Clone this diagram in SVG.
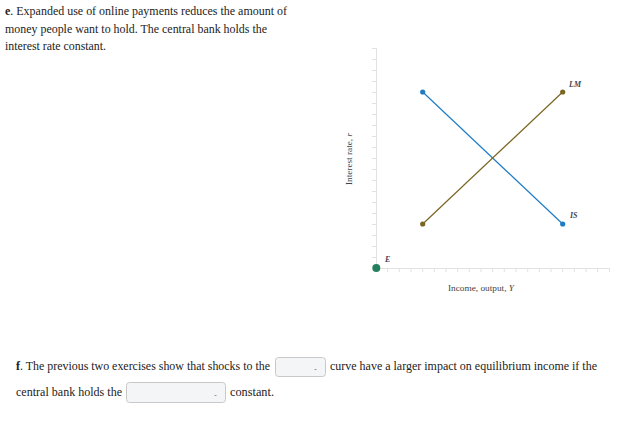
<svg xmlns="http://www.w3.org/2000/svg" width="629" height="435" viewBox="0 0 629 435">
<style>
text{font-family:'Liberation Serif','Times New Roman',Times,serif}
.t{font-size:11.5px;fill:#222}
.ax{font-size:8.5px;fill:#444}
.lb{font-size:8px;font-style:italic;font-weight:bold;fill:#445}
.grid{stroke:#e2e2e2;stroke-width:1;fill:none}
.sel{fill:#f4f5f7;stroke:#c8c8c8;stroke-width:1}
</style>
<rect width="629" height="435" fill="#fff"/>
<g id="question-e">
<text class="t" x="5" y="15" textLength="282" lengthAdjust="spacingAndGlyphs"><tspan font-weight="bold">e</tspan>. Expanded use of online payments reduces the amount of</text>
<text class="t" x="5" y="33" textLength="262" lengthAdjust="spacingAndGlyphs">money people want to hold. The central bank holds the</text>
<text class="t" x="5" y="50" textLength="101" lengthAdjust="spacingAndGlyphs">interest rate constant.</text>
</g>
<g id="axes">
<path class="grid" d="M376.5 48V268M376 268.5H610"/>
<path class="grid" d="M372 48.5h4M372 59.5h4M372 70.5h4M372 81.5h4M372 92.5h4M372 103.5h4M372 114.5h4M372 125.5h4M372 136.5h4M372 147.5h4M372 158.5h4M372 169.5h4M372 180.5h4M372 191.5h4M372 202.5h4M372 213.5h4M372 224.5h4M372 235.5h4M372 246.5h4M372 257.5h4"/>
<path class="grid" d="M387.7 268v4M399.3 268v4M411 268v4M422.7 268v4M434.3 268v4M446 268v4M457.7 268v4M469.3 268v4M481 268v4M492.7 268v4M504.3 268v4M516 268v4M527.7 268v4M539.3 268v4M551 268v4M562.7 268v4M574.3 268v4M586 268v4M597.7 268v4M609.5 268v4"/>
<text class="ax" transform="translate(352 159) rotate(-90)" text-anchor="middle" textLength="52" lengthAdjust="spacingAndGlyphs">Interest rate, <tspan font-style="italic">r</tspan></text>
<text class="ax" x="481" y="291" text-anchor="middle" textLength="66" lengthAdjust="spacingAndGlyphs">Income, output, <tspan font-style="italic">Y</tspan></text>
</g>
<g id="connectors">
<line x1="422.7" y1="92" x2="562.7" y2="224" stroke="#1f7cc4" stroke-width="1.2"/>
<line x1="422.7" y1="224" x2="562.7" y2="92" stroke="#7a6522" stroke-width="1.2"/>
</g>
<g id="IS">
<circle cx="422.7" cy="92" r="2.6" fill="#1f7cc4"/>
<circle cx="562.7" cy="224" r="2.6" fill="#1f7cc4"/>
<text class="lb" x="570" y="218">IS</text>
</g>
<g id="LM">
<circle cx="422.7" cy="224" r="2.6" fill="#7a6522"/>
<circle cx="562.7" cy="92" r="2.6" fill="#7a6522"/>
<text class="lb" x="569" y="87">LM</text>
</g>
<g id="E">
<circle cx="376.3" cy="268" r="4" fill="#258060"/>
<text class="lb" x="385" y="262">E</text>
</g>
<g id="question-f">
<text class="t" x="16" y="370" textLength="254" lengthAdjust="spacingAndGlyphs"><tspan font-weight="bold">f</tspan>. The previous two exercises show that shocks to the</text>
<rect class="sel" x="275.5" y="357.5" width="50" height="19" rx="3"/>
<path d="M314.5 369.5h2" stroke="#999" stroke-width="1"/>
<text class="t" x="330" y="370" textLength="267" lengthAdjust="spacingAndGlyphs">curve have a larger impact on equilibrium income if the</text>
<text class="t" x="16" y="396" textLength="106" lengthAdjust="spacingAndGlyphs">central bank holds the</text>
<rect class="sel" x="126.5" y="382.5" width="99" height="20" rx="3"/>
<path d="M214.5 395.5h2" stroke="#999" stroke-width="1"/>
<text class="t" x="230" y="396" textLength="44" lengthAdjust="spacingAndGlyphs">constant.</text>
</g>
</svg>
